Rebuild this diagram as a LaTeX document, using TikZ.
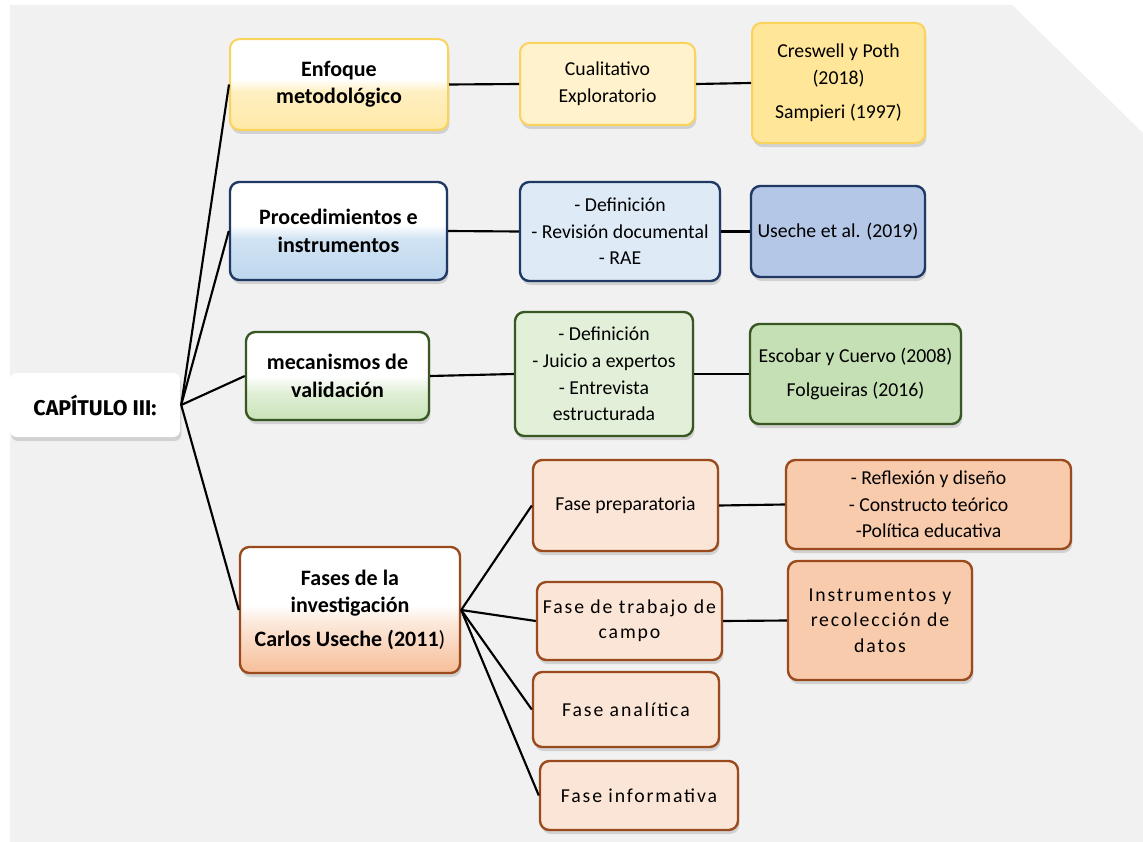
\documentclass[tikz,border=0pt]{standalone}
\usepackage{fontspec}
\setmainfont{Carlito}
\newfontfamily\capfont{Fira Sans}
\usetikzlibrary{shadows}
\definecolor{panel-gray}{HTML}{F1F1F1}
\definecolor{yellow-line}{HTML}{FAD35C}
\definecolor{yellow-low}{HTML}{FFE9A6}
\definecolor{yellow-mid}{HTML}{FFF2CC}
\definecolor{yellow-ref}{HTML}{FFE699}
\definecolor{blue-line}{HTML}{203864}
\definecolor{blue-low}{HTML}{BDD7EE}
\definecolor{blue-mid}{HTML}{DEEBF7}
\definecolor{blue-ref}{HTML}{B4C7E7}
\definecolor{green-line}{HTML}{385723}
\definecolor{green-low}{HTML}{C9E3B8}
\definecolor{green-mid}{HTML}{E2F0D9}
\definecolor{green-ref}{HTML}{C5E0B4}
\definecolor{brown-line}{HTML}{9A4A1C}
\definecolor{brown-low}{HTML}{F6BE98}
\definecolor{brown-mid}{HTML}{FBE5D6}
\definecolor{brown-ref}{HTML}{F8CBAD}
\pgfdeclareverticalshading{yellow-shade}{100bp}{color(0bp)=(yellow-low); color(25bp)=(yellow-low); color(46bp)=(yellow-low!70!white); color(53bp)=(white); color(100bp)=(white)}
\pgfdeclareverticalshading{blue-shade}{100bp}{color(0bp)=(blue-low); color(25bp)=(blue-low); color(46bp)=(blue-low!70!white); color(53bp)=(white); color(100bp)=(white)}
\pgfdeclareverticalshading{green-shade}{100bp}{color(0bp)=(green-low); color(25bp)=(green-low); color(40bp)=(green-low!60!white); color(50bp)=(white); color(100bp)=(white)}
\pgfdeclareverticalshading{brown-shade}{100bp}{color(0bp)=(brown-low); color(25bp)=(brown-low); color(45bp)=(brown-low!35!white); color(52bp)=(white); color(100bp)=(white)}
\tikzset{
    base-box/.style = {rectangle, rounded corners=7pt, align=center, inner sep=2pt, line width=1.8pt,
        font=\fontsize{14.8}{20}\selectfont, drop shadow={shadow xshift=1pt, shadow yshift=-3pt, opacity=.28}},
    head-box/.style = {base-box, font=\fontsize{16.5}{20.5}\selectfont\bfseries},
    spaced/.style = {font=\fontsize{14.8}{19}\selectfont\addfontfeature{LetterSpace=9.5}},
    link/.style = {line width=1.6pt, black},
}

\begin{document}
\begin{tikzpicture}[x=0.75pt, y=-0.75pt]
\useasboundingbox (0,0) rectangle (1143,842);
\fill[white] (0,0) rectangle (1143,842);
\fill[panel-gray] (10,5) -- (1012,5) -- (1143,133) -- (1143,842) -- (10,842) -- cycle;

% root
\node [base-box, fill=white, rounded corners=5pt, minimum width=127.5pt, minimum height=48pt,
    font=\capfont\bfseries\fontsize{16}{19}\selectfont] (root) at (95,405) {CAPÍTULO III:};

% first level
\node [head-box, draw=yellow-line, line width=1.5pt, shading=yellow-shade, minimum width=163.5pt, minimum height=68pt] (enfoque) at (339,84.5) {Enfoque\\metodológico};
\node [head-box, draw=blue-line, shading=blue-shade, minimum width=162.75pt, minimum height=73.5pt] (proc) at (338.5,231) {Procedimientos e\\instrumentos};
\node [head-box, draw=green-line, shading=green-shade, minimum width=137.25pt, minimum height=66pt] (meca) at (337.5,376) {mecanismos de\\validación};
\node [head-box, draw=brown-line, shading=brown-shade, minimum width=165pt, minimum height=94.5pt] (fases) at (350,610) {Fases de la\\investigación\\[5pt]Carlos Useche (2011\textmd{)}};

% second level
\node [base-box, draw=yellow-line, line width=1.5pt, fill=yellow-mid, minimum width=131.25pt, minimum height=61.5pt] (cuali) at (607.5,84) {Cualitativo\\Exploratorio};
\node [base-box, draw=blue-line, fill=blue-mid, minimum width=150pt, minimum height=74.25pt] (defin) at (620,231.5) {- Definición\\- Revisión documental\\- RAE};
\node [base-box, draw=green-line, fill=green-mid, minimum width=133.5pt, minimum height=93pt] (juicio) at (604,374) {- Definición\\- Juicio a expertos\\- Entrevista\\estructurada};
\node [base-box, draw=brown-line, fill=brown-mid, minimum width=138.75pt, minimum height=68.25pt] (prep) at (625.5,505.5) {Fase preparatoria};
\node [base-box, spaced, draw=brown-line, fill=brown-mid, minimum width=138.75pt, minimum height=58.5pt] (campo) at (629.5,621) {Fase de trabajo de\\campo};
\node [base-box, spaced, draw=brown-line, fill=brown-mid, minimum width=139.5pt, minimum height=56.25pt] (anal) at (626,709.5) {Fase analítica};
\node [base-box, spaced, draw=brown-line, fill=brown-mid, minimum width=148.5pt, minimum height=51.75pt] (info) at (639,795.5) {Fase informativa};

% third level
\node [base-box, draw=yellow-line, line width=1.5pt, fill=yellow-ref, minimum width=129.75pt, minimum height=90pt] (cres) at (838.5,83) {Creswell y Poth\\(2018)\\[6pt]Sampieri (1997)};
\node [base-box, draw=blue-line, fill=blue-ref, minimum width=130.5pt, minimum height=68.25pt] (usec) at (838,231.5) {Useche et al. (2019)};
\node [base-box, draw=green-line, fill=green-ref, minimum width=158.25pt, minimum height=75pt] (esco) at (855.5,374) {Escobar y Cuervo (2008)\\[6pt]Folgueiras (2016)};
\node [base-box, draw=brown-line, fill=brown-ref, minimum width=213.75pt, minimum height=66.75pt] (refl) at (928.5,504.5) {- Reflexión y diseño\\- Constructo teórico\\-Política educativa};
\node [base-box, spaced, draw=brown-line, fill=brown-ref, minimum width=138pt, minimum height=89.25pt] (inst) at (880,620.5) {Instrumentos y\\recolección de\\datos};

% connectors
\draw [link] (root.east) -- (enfoque.west);
\draw [link] (root.east) -- (proc.west);
\draw [link] (root.east) -- (meca.west);
\draw [link] (root.east) -- (fases.west);
\draw [link] (enfoque.east) -- (cuali.west);
\draw [link] (cuali.east) -- (cres.west);
\draw [link] (proc.east) -- (defin.west);
\draw [link] (defin.east) -- (usec.west);
\draw [link] (meca.east) -- (juicio.west);
\draw [link] (juicio.east) -- (esco.west);
\draw [link] (fases.east) -- (prep.west);
\draw [link] (fases.east) -- (campo.west);
\draw [link] (fases.east) -- (anal.west);
\draw [link] (fases.east) -- (info.west);
\draw [link] (prep.east) -- (refl.west);
\draw [link] (campo.east) -- (inst.west);
\end{tikzpicture}
\end{document}
